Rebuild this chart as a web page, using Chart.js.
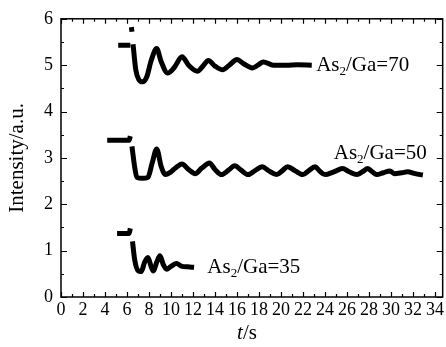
<!DOCTYPE html>
<html>
<head>
<meta charset="utf-8">
<script src="https://cdn.jsdelivr.net/npm/chart.js@4"></script>
<style>
  body { margin: 0; background: #fff; }
  canvas { display: block; }
</style>
</head>
<body>
<canvas id="rheed" width="446" height="347"></canvas>
<script>
// RHEED intensity oscillations for three As2/Ga ratios
const xTicks = [0, 2, 4, 6, 8, 10, 12, 14, 16, 18, 20, 22, 24, 26, 28, 30, 32, 34];
const yTicks = [0, 1, 2, 3, 4, 5, 6];

const t70 = [5.2, 6.3, null, 6.4, 6.45, null, 6.55, 6.8, 7.1, 7.4, 7.8, 8.2, 8.7, 9.1, 9.7, 10.3, 11.0, 11.6, 12.4, 12.9, 13.4, 14.0, 14.7, 15.3, 16.0, 16.6, 17.4, 17.9, 18.4, 19.3, 20.5, 21.5, 22.8];
const v70 = [5.43, 5.43, null, 5.82, 5.72, null, 5.45, 4.9, 4.68, 4.64, 4.75, 5.1, 5.36, 5.08, 4.83, 4.95, 5.18, 5.0, 4.87, 4.98, 5.1, 4.98, 4.9, 5.0, 5.12, 5.03, 4.94, 5.0, 5.07, 5.0, 5.0, 5.01, 5.0];

const t50 = [4.2, 6.2, 6.3, null, 6.45, 6.7, 6.9, 7.4, 7.9, 8.3, 8.7, 9.1, 9.5, 9.9, 10.4, 11.0, 11.6, 12.2, 12.8, 13.5, 14.0, 14.6, 15.2, 15.8, 16.4, 17.0, 17.6, 18.3, 18.9, 19.6, 20.1, 20.6, 21.3, 22.0, 22.5, 23.1, 23.5, 24.0, 24.8, 25.6, 26.2, 26.9, 27.4, 27.9, 28.3, 28.7, 29.3, 29.9, 30.3, 31.0, 31.5, 32.2, 32.9];
const v50 = [3.38, 3.38, 3.47, null, 3.25, 2.8, 2.58, 2.56, 2.58, 2.9, 3.19, 2.82, 2.64, 2.68, 2.78, 2.87, 2.75, 2.66, 2.78, 2.89, 2.75, 2.64, 2.73, 2.83, 2.73, 2.64, 2.72, 2.81, 2.72, 2.64, 2.72, 2.81, 2.72, 2.64, 2.72, 2.81, 2.72, 2.64, 2.7, 2.77, 2.7, 2.64, 2.7, 2.77, 2.7, 2.64, 2.68, 2.72, 2.66, 2.68, 2.7, 2.66, 2.63];

const t35 = [5.1, 6.2, 6.3, null, 6.5, 6.7, 7.0, 7.3, 7.6, 7.9, 8.2, 8.4, 8.7, 9.0, 9.3, 9.6, 10.0, 10.5, 11.0, 11.5, 12.1];
const v35 = [1.37, 1.37, 1.48, null, 1.2, 0.8, 0.57, 0.55, 0.75, 0.85, 0.65, 0.56, 0.75, 0.89, 0.7, 0.6, 0.66, 0.72, 0.66, 0.65, 0.64];

const seriesNames = ['70', '50', '35'];

// label anchors (data coordinates of the text baseline start)
const notes = [
  { x: 23.2, y: 4.87, ratio: '70' },
  { x: 24.8, y: 2.98, ratio: '50' },
  { x: 13.3, y: 0.51, ratio: '35' }
];

const serif = "'Liberation Serif', 'Times New Roman', serif";

function points(ts, vs) {
  return ts.map((t, i) => ({ x: t, y: vs[i] }));
}

function curve(name, ts, vs) {
  return {
    label: 'As2/Ga=' + name,
    data: points(ts, vs),
    borderColor: '#000',
    backgroundColor: '#000',
    borderWidth: 5,
    pointRadius: 0,
    cubicInterpolationMode: 'monotone',
    spanGaps: false,
    fill: false
  };
}

const frame = {
  id: 'frame',
  afterDraw(chart) {
    const { ctx, chartArea: a, scales: { x, y } } = chart;
    ctx.save();
    ctx.strokeStyle = '#000';
    ctx.lineWidth = 1.5;
    ctx.strokeRect(a.left, a.top, a.right - a.left, a.bottom - a.top);

    ctx.lineWidth = 1.2;
    ctx.beginPath();
    for (let v = 0; v <= 34; v += 1) {
      const px = Math.round(x.getPixelForValue(v)) + 0.5;
      const len = v % 2 === 0 ? 5 : 3;
      ctx.moveTo(px, a.bottom); ctx.lineTo(px, a.bottom - len);
      ctx.moveTo(px, a.top); ctx.lineTo(px, a.top + len);
    }
    for (let v = 0; v <= 6; v += 0.5) {
      const py = Math.round(y.getPixelForValue(v)) + 0.5;
      const len = Number.isInteger(v) ? 6 : 3;
      ctx.moveTo(a.left, py); ctx.lineTo(a.left + len, py);
      ctx.moveTo(a.right, py); ctx.lineTo(a.right - len, py);
    }
    ctx.stroke();

    ctx.fillStyle = '#000';
    // axis titles
    ctx.save();
    ctx.translate(17, (a.top + a.bottom) / 2);
    ctx.rotate(-Math.PI / 2);
    ctx.font = '21px ' + serif;
    ctx.textAlign = 'center';
    ctx.textBaseline = 'middle';
    ctx.fillText('Intensity/a.u.', 0, 0);
    ctx.restore();

    ctx.textBaseline = 'alphabetic';
    ctx.textAlign = 'left';
    ctx.font = 'italic 21px ' + serif;
    const tw = ctx.measureText('t').width;
    ctx.font = '21px ' + serif;
    const sw = ctx.measureText('/s').width;
    const cx = 247 - (tw + sw) / 2;
    ctx.font = 'italic 21px ' + serif;
    ctx.fillText('t', cx, 339);
    ctx.font = '21px ' + serif;
    ctx.fillText('/s', cx + tw, 339);

    // series labels
    notes.forEach(n => {
      let px = x.getPixelForValue(n.x);
      const py = y.getPixelForValue(n.y);
      ctx.font = '21px ' + serif;
      ctx.fillText('As', px, py);
      px += ctx.measureText('As').width;
      ctx.font = '13px ' + serif;
      ctx.fillText('2', px, py + 4);
      px += ctx.measureText('2').width;
      ctx.font = '21px ' + serif;
      ctx.fillText('/Ga=' + n.ratio, px, py);
    });
    ctx.restore();
  }
};

new Chart(document.getElementById('rheed'), {
  type: 'line',
  data: {
    datasets: [
      curve(seriesNames[0], t70, v70),
      curve(seriesNames[1], t50, v50),
      curve(seriesNames[2], t35, v35)
    ]
  },
  options: {
    responsive: false,
    animation: false,
    devicePixelRatio: 1,
    layout: { padding: { top: 15, right: 1, left: 0, bottom: 0 } },
    plugins: { legend: { display: false }, tooltip: { enabled: false } },
    scales: {
      x: {
        type: 'linear',
        min: 0,
        max: 34.7,
        grid: { display: false, drawTicks: false },
        border: { display: false },
        afterBuildTicks: s => { s.ticks = xTicks.map(v => ({ value: v })); },
        afterFit: s => { s.height = 50; },
        ticks: {
          autoSkip: false,
          maxRotation: 0,
          padding: 2,
          color: '#000',
          font: { family: serif, size: 18 }
        }
      },
      y: {
        min: 0,
        max: 6,
        grid: { display: false, drawTicks: false },
        border: { display: false },
        afterBuildTicks: s => { s.ticks = yTicks.map(v => ({ value: v })); },
        afterFit: s => { s.width = 61; },
        ticks: {
          padding: 8,
          color: '#000',
          font: { family: serif, size: 18 }
        }
      }
    }
  },
  plugins: [frame]
});
</script>
</body>
</html>
